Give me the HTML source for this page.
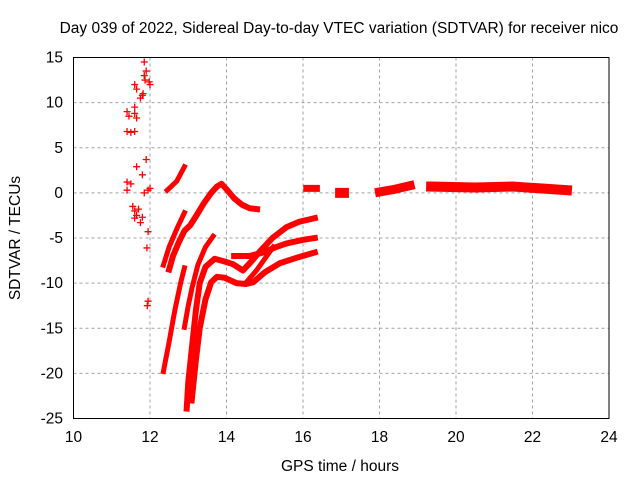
<!DOCTYPE html>
<html><head><meta charset="utf-8"><style>
body{margin:0;background:#fff}
svg text{font-family:"Liberation Sans",sans-serif;font-size:15.5px;fill:#000}
</style></head><body>
<svg id="c" width="640" height="480" xmlns="http://www.w3.org/2000/svg">
<rect width="640" height="480" fill="#fff"/>
<g id="grid"></g>
<g id="ticks"></g>
<g id="marks"></g>
<rect x="73.5" y="57.5" width="535.5" height="361" fill="none" stroke="#000" stroke-width="1"/>
<text x="339" y="33" text-anchor="middle">Day 039 of 2022, Sidereal Day-to-day VTEC variation (SDTVAR) for receiver nico</text>
<text x="340" y="471" text-anchor="middle">GPS time / hours</text>
<text transform="translate(20,238) rotate(-90)" text-anchor="middle">SDTVAR / TECUs</text>
</svg>
<script>
const xTicks=[10,12,14,16,18,20,22,24];
const yTicks=[15,10,5,0,-5,-10,-15,-20,-25];
const trackA1=[[12.35,-8],[12.5,-6],[12.7,-4],[12.9,-2.2]];
const trackA2=[[12.5,-8.5],[12.6,-7],[12.75,-5.5],[12.9,-4.2],[13.05,-3.6],[13.2,-2.6],[13.4,-1.2],[13.6,0],[13.75,0.7],[13.87,1.0],[14.0,0.4],[14.2,-0.6],[14.4,-1.3],[14.6,-1.7],[14.8,-1.8]];
const trackB0=[[12.35,-19.8],[12.5,-16.5],[12.65,-13],[12.8,-10],[12.9,-8.3]];
const trackB1=[[12.9,-14.9],[13.0,-12.5],[13.1,-10.5],[13.25,-8],[13.45,-6],[13.65,-4.8]];
const trackC=[[12.96,-23.9],[13.0,-21],[13.1,-17],[13.2,-13],[13.3,-10],[13.45,-8.2],[13.69,-7.3],[13.95,-7.6],[14.17,-7.9],[14.43,-8.6],[14.65,-7.6],[14.87,-6.5],[15.2,-5],[15.57,-3.8],[15.9,-3.2],[16.31,-2.8]];
const trackD=[[14.2,-7],[14.6,-7],[14.96,-6.6],[15.3,-6],[15.57,-5.6],[16.0,-5.2],[16.31,-5.0]];
const trackE=[[13.09,-23],[13.2,-18.5],[13.3,-15],[13.45,-11.8],[13.6,-9.9],[13.75,-9.3],[13.95,-9.4],[14.26,-10],[14.5,-10.1],[14.7,-9.9],[15.0,-8.8],[15.39,-7.8],[15.9,-7.1],[16.31,-6.6]];
const trackF=[[14.5,-10],[14.8,-8.5],[15.22,-6]];
const trackG=[[12.45,0.3],[12.7,1.3],[12.9,2.9]];
const trackR1=[[16.1,0.5],[16.35,0.5]];
const trackR2=[[16.97,0],[17.07,0]];
const trackR3=[[18.0,0.1],[18.4,0.4],[18.8,0.8]];
const trackR4=[[19.35,0.7],[20.5,0.6],[21.5,0.7],[22.2,0.5],[22.9,0.3]];
const scatterX=[11.85,11.9,11.85,11.87,11.6,11.65,11.98,12,11.8,11.75,11.82,11.4,11.45,11.6,11.6,11.65,11.4,11.5,11.6,11.9,11.65,11.8,11.4,11.5,11.4,11.55,11.6,11.65,11.8,11.75,11.95,11.92,11.95,11.93,11.85,11.95,12.0,11.6,11.7];
const scatterY=[14.5,13.5,13,12.5,12,11.5,12.3,12,10.8,10.5,11,9,8.5,9.5,8.8,8.3,6.8,6.7,6.8,3.7,2.9,2,1.2,1,0.3,-1.5,-2,-2.5,-2.7,-3.3,-4.3,-6.1,-12,-12.5,0,0.3,0.5,-2.8,-1.8];
const tracks=[[trackA1,5],[trackA2,6],[trackB0,5],[trackB1,5],[trackC,6],[trackD,6],[trackE,6],[trackF,5],[trackG,5],[trackR1,7],[trackR2,10],[trackR3,9],[trackR4,10]];
const X=v=>73.5+(v-10)*(535.5/14);
const Y=v=>57.5+(15-v)*(361/40);
const NS='http://www.w3.org/2000/svg';
const g=document.getElementById('grid'),t=document.getElementById('ticks'),m=document.getElementById('marks');
function mk(tag,at,p){const e=document.createElementNS(NS,tag);for(const k in at)e.setAttribute(k,at[k]);p.appendChild(e);return e;}
xTicks.forEach(v=>{
 if(v>10&&v<24){const l=mk('line',{x1:X(v),x2:X(v),y1:57.5,y2:418.5,stroke:'#a0a0a0','stroke-dasharray':'3,3'},g);
 
 }
 const s=mk('text',{x:X(v),y:442,'text-anchor':'middle'},t);s.textContent=v;
 
 
});
yTicks.forEach(v=>{
 if(v<15&&v>-25){const l=mk('line',{x1:73.5,x2:609,y1:Y(v),y2:Y(v),stroke:'#a0a0a0','stroke-dasharray':'3,3'},g);
 
 }
 const s=mk('text',{x:63,y:Y(v)+5,'text-anchor':'end'},t);s.textContent=v;
 
 
});
tracks.forEach(([pts,w])=>{
 const p=mk('polyline',{points:pts.map(q=>X(q[0])+','+Y(q[1])).join(' '),fill:'none',stroke:'#f00','stroke-width':w,'stroke-linejoin':'round','stroke-linecap':'square'},m);
 
 
});
function plus(x,y){
 const p=mk('path',{d:`M${x-3.5},${y}h7M${x},${y-3.5}v7`,stroke:'#f00','stroke-width':1.3},m);
 
 
}
scatterX.forEach((v,i)=>plus(X(v),Y(scatterY[i])));
</script>
</body></html>
